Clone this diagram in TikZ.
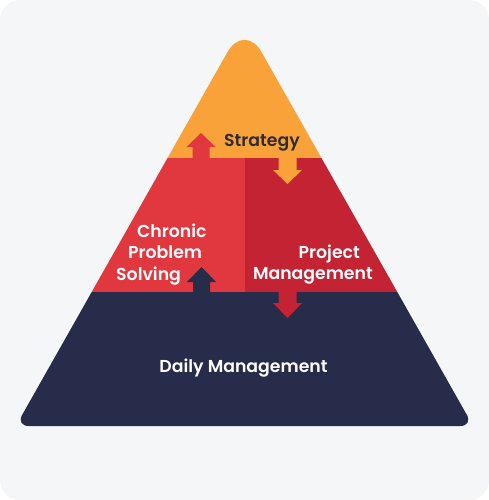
\documentclass[tikz,border=0pt]{standalone}
\usepackage{fontspec}
\setmainfont{Poppins}[BoldFont={* SemiBold}]
\definecolor{bgc}{HTML}{F4F6F8}
\definecolor{orng}{HTML}{FAA23A}
\definecolor{redl}{HTML}{E0383E}
\definecolor{redr}{HTML}{C42333}
\definecolor{navy}{HTML}{262C49}
\definecolor{txtd}{HTML}{2D2B33}
\tikzset{
  lbl/.style={font=\fontsize{17.3}{20}\selectfont\bfseries, inner sep=0pt},
  wlbl/.style={lbl, text=white},
  dlbl/.style={lbl, text=txtd},
}
\begin{document}
\begin{tikzpicture}[x=1pt,y=-1pt]
\useasboundingbox (0,0) rectangle (489,500);
\fill[white] (0,0) rectangle (489,500);
\fill[bgc, rounded corners=20pt] (0,0) rectangle (489,500);
\begin{scope}
  \clip[rounded corners=35pt] (244.5,22) -- (571.6,600) -- (-82.6,600) -- cycle;
  \clip[rounded corners=13pt] (244.5,22) -- (473.2,426) -- (15.8,426) -- cycle;
  \fill[orng] (0,0) rectangle (489,158);
  \fill[redl] (0,158) rectangle (244.5,292);
  \fill[redr] (244.5,158) rectangle (489,292);
  \fill[navy] (0,292) rectangle (489,500);
\end{scope}
% arrows
\fill[redl] (192.5,158.5) -- (192.5,147) -- (186.5,147) -- (201,133) -- (215.5,147) -- (209.5,147) -- (209.5,158.5) -- cycle;
\fill[orng] (278.5,157.5) -- (278.5,170) -- (273,170) -- (287.5,184) -- (302,170) -- (296.5,170) -- (296.5,157.5) -- cycle;
\fill[navy] (193,292.5) -- (193,282) -- (187,282) -- (201.5,267) -- (216,282) -- (210,282) -- (210,292.5) -- cycle;
\fill[redr] (278.5,291.5) -- (278.5,303) -- (273,303) -- (287.5,318) -- (302,303) -- (296.5,303) -- (296.5,291.5) -- cycle;
% labels
\node[dlbl, anchor=base west] (strat) at (224,146) {Strategy};
\node[wlbl, anchor=base west] (chr1) at (137,237) {Chronic};
\node[wlbl, anchor=base west] (chr2) at (128,258) {Problem};
\node[wlbl, anchor=base west] (chr3) at (116,280) {Solving};
\node[wlbl, anchor=base east] (pm1) at (360,258) {Project};
\node[wlbl, anchor=base east] (pm2) at (373,279) {Management};
\node[wlbl, anchor=base] (daily) at (243.5,372) {Daily Management};
\end{tikzpicture}
\end{document}
